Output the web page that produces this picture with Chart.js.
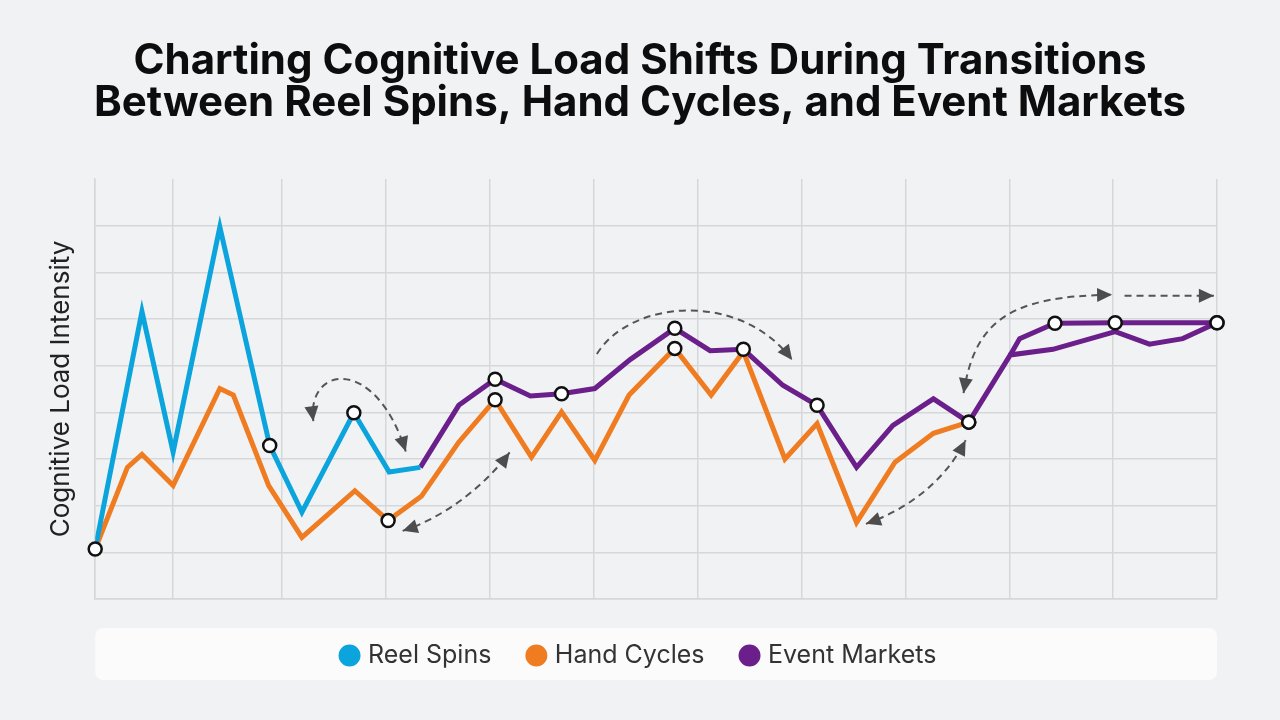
<!DOCTYPE html>
<html>
<head>
<meta charset="utf-8">
<script src="https://cdn.jsdelivr.net/npm/chart.js@4.4.1/dist/chart.umd.min.js"></script>
<style>
  html, body { margin: 0; padding: 0; background: #f1f2f4; }
  #wrap { width: 1280px; height: 720px; }
</style>
</head>
<body>
<div id="wrap"><canvas id="loadChart"></canvas></div>
<script>
// session timeline (x) vs cognitive load (y)
const reelSpinsX = [0, 0.45, 0.75, 1.20, 1.68, 1.99, 2.49, 2.83, 3.13];
const reelSpinsY = [1.07, 6.16, 3.15, 7.97, 3.29, 1.86, 3.99, 2.72, 2.82];
const reelSpinsMarked = [0, 4, 6];

const handCyclesX = [0, 0.31, 0.45, 0.75, 1.20, 1.33, 1.67, 1.99, 2.50, 2.82, 3.14, 3.50, 3.85,
  4.20, 4.49, 4.81, 5.14, 5.58, 5.93, 6.24, 6.64, 6.95, 7.33, 7.70, 8.07, 8.41];
const handCyclesY = [1.07, 2.82, 3.10, 2.43, 4.51, 4.37, 2.43, 1.32, 2.32, 1.68, 2.20, 3.36, 4.27,
  3.04, 4.01, 2.97, 4.37, 5.37, 4.37, 5.30, 3.00, 3.76, 1.64, 2.93, 3.55, 3.79];
const handCyclesMarked = [9, 12, 17, 25];

const eventMarketsX = [3.13, 3.50, 3.85, 4.19, 4.49, 4.81, 5.15, 5.58, 5.92, 6.24, 6.62, 6.95,
  7.33, 7.68, 8.07, 8.41, 8.81, 9.22, 9.82, 10.15, 10.47, 10.80];
const eventMarketsY = [2.82, 4.15, 4.71, 4.35, 4.40, 4.51, 5.13, 5.80, 5.32, 5.35, 4.58, 4.15,
  2.82, 3.72, 4.29, 3.79, 5.23, 5.35, 5.73, 5.46, 5.58, 5.92];
const eventMarketsMarked = [2, 4, 7, 9, 11, 15, 21];

// upper plateau branch of event markets
const eventBranchX = [8.81, 8.90, 9.24, 9.82, 10.80];
const eventBranchY = [5.23, 5.58, 5.91, 5.92, 5.92];
const eventBranchMarked = [2, 3, 4];

const xGridStops = [0, 0.75, 1.8, 2.8, 3.8, 4.8, 5.8, 6.8, 7.8, 8.8, 9.8, 10.8];

// transition arrows: [start, ctrl1, ctrl2, end] in data units, heads at start/end
const transitionArrows = [
  { pts: [[2.10, 3.81], [2.03, 5.01], [2.70, 5.23], [2.99, 3.16]], startHead: true, endHead: true },
  { pts: [[2.96, 1.46], [3.32, 1.72], [3.71, 2.32], [3.99, 3.14]], startHead: true, endHead: true },
  { pts: [[4.83, 5.25], [5.15, 6.41], [6.21, 6.62], [6.71, 5.12]], startHead: false, endHead: true },
  { pts: [[7.42, 1.61], [7.84, 1.94], [8.18, 2.54], [8.38, 3.40]], startHead: true, endHead: true },
  { pts: [[8.36, 4.41], [8.47, 5.98], [8.81, 6.49], [9.79, 6.52]], startHead: true, endHead: true },
  { pts: [[9.91, 6.50], [10.20, 6.50], [10.50, 6.50], [10.77, 6.50]], startHead: false, endHead: true }
];

const toPoints = (xs, ys) => xs.map((x, i) => ({ x: x, y: ys[i] }));

const blue = '#0ba4dd';
const orange = '#f07c22';
const purple = '#6a1f8a';

function lineSet(label, xs, ys, color, marked) {
  return {
    label: label,
    data: toPoints(xs, ys),
    borderColor: color,
    backgroundColor: color,
    pointBackgroundColor: color,
    pointBorderColor: color,
    borderWidth: 5,
    pointRadius: 0,
    pointHoverRadius: 0,
    tension: 0,
    fill: false,
    marked: marked
  };
}

function drawHead(ctx, tip, from) {
  const ang = Math.atan2(tip.y - from.y, tip.x - from.x);
  ctx.save();
  ctx.translate(tip.x, tip.y);
  ctx.rotate(ang);
  ctx.beginPath();
  ctx.moveTo(0, 0);
  ctx.lineTo(-15, -7);
  ctx.lineTo(-15, 7);
  ctx.closePath();
  ctx.fillStyle = '#4d4d4d';
  ctx.fill();
  ctx.restore();
}

const backdropPlugin = {
  id: 'backdrop',
  beforeDraw(chart) {
    const { ctx, chartArea } = chart;
    ctx.save();
    ctx.fillStyle = '#f1f2f4';
    ctx.fillRect(0, 0, chart.width, chart.height);
    ctx.fillStyle = '#fbfbfb';
    ctx.beginPath();
    ctx.roundRect(chartArea.left, chartArea.bottom + 29, chartArea.right - chartArea.left, 52, 8);
    ctx.fill();
    ctx.restore();
  }
};

const arrowPlugin = {
  id: 'arrows',
  afterDatasetsDraw(chart) {
    const { ctx, scales } = chart;
    ctx.save();
    transitionArrows.forEach(a => {
      const p = a.pts.map(q => ({ x: scales.x.getPixelForValue(q[0]), y: scales.y.getPixelForValue(q[1]) }));
      ctx.beginPath();
      ctx.setLineDash([7, 5]);
      ctx.lineWidth = 2;
      ctx.strokeStyle = '#555';
      ctx.moveTo(p[0].x, p[0].y);
      ctx.bezierCurveTo(p[1].x, p[1].y, p[2].x, p[2].y, p[3].x, p[3].y);
      ctx.stroke();
      ctx.setLineDash([]);
      if (a.startHead) drawHead(ctx, p[0], p[1]);
      if (a.endHead) drawHead(ctx, p[3], p[2]);
    });
    ctx.restore();
  }
};

const markerPlugin = {
  id: 'markers',
  afterDatasetsDraw(chart) {
    const ctx = chart.ctx;
    ctx.save();
    chart.data.datasets.forEach((ds, i) => {
      const meta = chart.getDatasetMeta(i);
      (ds.marked || []).forEach(idx => {
        const pt = meta.data[idx];
        ctx.beginPath();
        ctx.arc(pt.x, pt.y, 6.5, 0, Math.PI * 2);
        ctx.fillStyle = '#ffffff';
        ctx.fill();
        ctx.lineWidth = 2.5;
        ctx.strokeStyle = '#111';
        ctx.stroke();
      });
    });
    ctx.restore();
  }
};

const gridColor = '#d5d7da';

new Chart(document.getElementById('loadChart'), {
  type: 'line',
  data: {
    datasets: [
      lineSet('Reel Spins', reelSpinsX, reelSpinsY, blue, reelSpinsMarked),
      lineSet('Hand Cycles', handCyclesX, handCyclesY, orange, handCyclesMarked),
      lineSet('Event Markets', eventMarketsX, eventMarketsY, purple, eventMarketsMarked),
      lineSet('Event Markets', eventBranchX, eventBranchY, purple, eventBranchMarked)
    ]
  },
  options: {
    responsive: true,
    maintainAspectRatio: false,
    animation: false,
    layout: { padding: { left: 63, right: 63, top: 0, bottom: 42 } },
    scales: {
      x: {
        type: 'linear',
        min: 0,
        max: 10.8,
        afterBuildTicks: scale => { scale.ticks = xGridStops.map(v => ({ value: v })); },
        ticks: { display: false },
        grid: { color: gridColor, lineWidth: 1.5, drawTicks: true, tickLength: 5, tickColor: 'rgba(0,0,0,0)' },
        border: { color: gridColor, width: 1.5 }
      },
      y: {
        min: 0,
        max: 9,
        ticks: { display: false, stepSize: 1 },
        grid: {
          color: c => (c.tick && c.tick.value === 9 ? 'rgba(0,0,0,0)' : gridColor),
          lineWidth: 1.5,
          drawTicks: false
        },
        border: { color: gridColor, width: 1.5 },
        title: {
          display: true,
          text: 'Cognitive Load Intensity',
          color: '#222',
          font: { family: 'Inter', size: 26 },
          padding: { top: -17, bottom: 18 }
        }
      }
    },
    plugins: {
      title: {
        display: true,
        text: ['Charting Cognitive Load Shifts During Transitions', 'Between Reel Spins, Hand Cycles, and Event Markets'],
        color: '#0d0d0d',
        font: { family: 'Inter', size: 42, weight: 'bold', lineHeight: 1.0 },
        padding: { top: 40, bottom: 55 }
      },
      legend: {
        position: 'bottom',
        labels: {
          filter: item => item.datasetIndex < 3,
          usePointStyle: true,
          pointStyle: 'circle',
          boxWidth: 12,
          boxHeight: 12,
          padding: 39,
          color: '#333',
          font: { family: 'Inter', size: 25 }
        }
      },
      tooltip: { enabled: false }
    }
  },
  plugins: [backdropPlugin, arrowPlugin, markerPlugin]
});
</script>
</body>
</html>
